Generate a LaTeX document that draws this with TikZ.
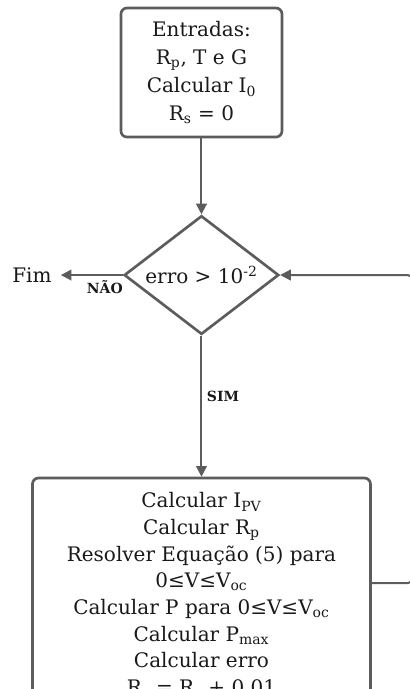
\documentclass[tikz,border=0pt]{standalone}
\usepackage{fontspec}
\setmainfont{DejaVu Serif}
\usepackage{tikz}
\usetikzlibrary{arrows.meta,positioning,shapes.geometric}
\definecolor{linegray}{RGB}{92,92,92}
\definecolor{textgray}{RGB}{25,25,25}
\newcommand{\ind}[1]{\textsubscript{#1}}

\begin{document}
\begin{tikzpicture}[
  node distance=57pt,
  box/.style={draw=linegray,line width=2pt,rounded corners=4.5pt,align=center,text=textgray,font=\fontsize{15}{21}\selectfont},
  decision/.style={draw=linegray,line width=2pt,diamond,aspect=1.3,minimum width=116pt,minimum height=89pt,inner sep=0pt,text=textgray,font=\fontsize{15}{18}\selectfont},
  arr/.style={-{Triangle[length=8pt,width=8pt]},draw=linegray,line width=1.5pt},
  tag/.style={font=\fontsize{10.5}{12}\selectfont\bfseries,text=textgray}
]
  \useasboundingbox (0,0) rectangle (307.5pt,-516.75pt);
  \node[box,minimum width=120.75pt,minimum height=96.75pt] (input) at (151.1pt,-54.4pt) {Entradas:\\R\ind{p}, T e G\\Calcular I\ind{0}\\R\ind{s} = 0};
  \node[decision,below=57pt of input] (test) {erro > 10\textsuperscript{-2}};
  \node[left=46.5pt of test,inner xsep=6.75pt,text=textgray,font=\fontsize{15}{18}\selectfont] (fim) {Fim};
  \node[box,below=105.75pt of test,minimum width=253.5pt,inner ysep=11pt,font=\fontsize{15}{20}\selectfont] (calc) {Calcular I\ind{PV}\\Calcular R\ind{p}\\Resolver Equação (5) para\\0≤V≤V\ind{oc}\\Calcular P para 0≤V≤V\ind{oc}\\Calcular P\ind{max}\\Calcular erro\\R\ind{s} = R\ind{s} + 0,01};
  \coordinate (back) at (309.75pt,0);
  \draw[arr] (input) -- (test);
  \draw[arr] (test) -- node[tag,below,pos=0.29]{NÃO} (fim);
  \draw[arr] (test) -- node[tag,right,pos=0.43]{SIM} (calc);
  \draw[arr,rounded corners=4pt] ([yshift=9pt]calc.east) -| (back |- test.east) -- (test.east);
\end{tikzpicture}
\end{document}
